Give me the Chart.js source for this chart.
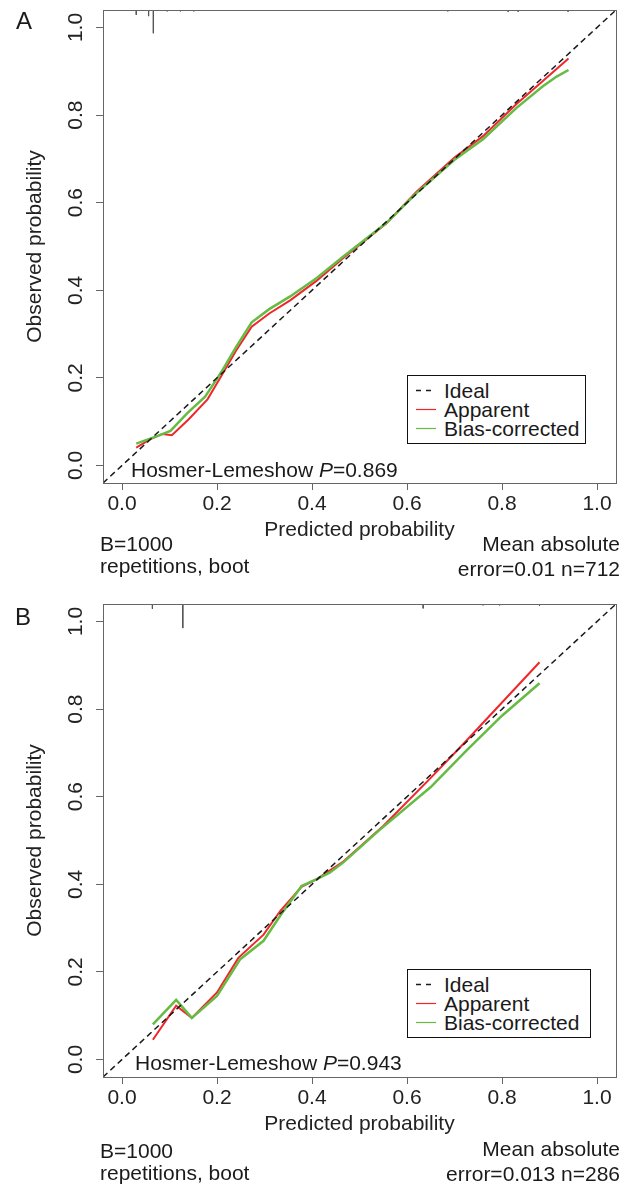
<!DOCTYPE html>
<html lang="en">
<head>
  <meta charset="UTF-8">
  <title>Calibration curves</title>
  <script src="https://cdn.jsdelivr.net/npm/chart.js"></script>
  <style>
    * { box-sizing: border-box; margin: 0; padding: 0; }
    body { width: 633px; height: 1186px; background: #fff; color: #1a1a1a;
           font-family: "Liberation Sans", Arial, sans-serif; position: relative; overflow: hidden; }
    canvas { position: absolute; left: 0; }
    .note { position: absolute; font-size: 21px; line-height: 21px; white-space: nowrap; }
    .tag { position: absolute; font-size: 24px; line-height: 24px; }
    .block { position: absolute; font-size: 21px; white-space: nowrap; }
    .legend { position: absolute; border: 1.5px solid #111; background: #fff; padding: 5px 0 0 8px;
              font-size: 21px; line-height: 19px; white-space: nowrap; }
    .legend div { height: 19px; display: flex; align-items: center; }
    .legend svg { margin-right: 8px; flex: none; }
  </style>
</head>
<body>
  <canvas id="chartA" width="633" height="593" style="top:0"></canvas>
  <canvas id="chartB" width="633" height="593" style="top:594px"></canvas>

  <div class="tag" style="left:16px; top:9px">A</div>
  <div class="tag" style="left:15px; top:605px">B</div>

  <div class="note" style="left:131px; top:459px">Hosmer-Lemeshow <i>P</i>=0.869</div>
  <div class="note" style="left:135px; top:1052px">Hosmer-Lemeshow <i>P</i>=0.943</div>

  <div class="block" style="left:100px; top:533px; line-height:22px">B=1000<br>repetitions, boot</div>
  <div class="block" style="right:13px; top:531px; line-height:25px; text-align:right">Mean absolute<br>error=0.01 n=712</div>
  <div class="block" style="left:100px; top:1140px; line-height:22px">B=1000<br>repetitions, boot</div>
  <div class="block" style="right:13px; top:1136px; line-height:25px; text-align:right">Mean absolute<br>error=0.013 n=286</div>

  <div class="legend" id="legendA" style="left:407px; top:375px; width:179px; height:69px"></div>
  <div class="legend" id="legendB" style="left:407px; top:969px; width:184px; height:69px"></div>

  <script>
    const tickValues = [0, 0.2, 0.4, 0.6, 0.8, 1.0];
    const axisLimits = [-0.04, 1.04];
    const seriesNames = ['Ideal', 'Apparent', 'Bias-corrected'];

    // panel A (n=712)
    const predApparentA = [0.03, 0.06, 0.085, 0.105, 0.14, 0.18, 0.21, 0.24, 0.273, 0.31, 0.354, 0.41, 0.466, 0.557, 0.62, 0.70, 0.76, 0.83, 0.886, 0.94];
    const obsApparentA  = [0.041, 0.06, 0.072, 0.069, 0.105, 0.151, 0.206, 0.262, 0.317, 0.347, 0.377, 0.422, 0.474, 0.553, 0.625, 0.703, 0.752, 0.825, 0.878, 0.929];
    const predBiasA = [0.03, 0.074, 0.102, 0.137, 0.175, 0.21, 0.24, 0.273, 0.31, 0.354, 0.41, 0.466, 0.557, 0.62, 0.70, 0.76, 0.83, 0.886, 0.915, 0.94];
    const obsBiasA  = [0.05, 0.067, 0.079, 0.119, 0.157, 0.215, 0.27, 0.327, 0.357, 0.386, 0.428, 0.477, 0.554, 0.622, 0.698, 0.745, 0.816, 0.866, 0.888, 0.903];
    const rugPredA = [0.03, 0.056, 0.066, 0.095, 0.123, 0.151, 0.686, 0.813, 0.834, 0.939];
    const rugFreqA = [0.011, 0.014, 0.053, 0.003, 0.003, 0.003, 0.003, 0.004, 0.004, 0.004];

    // panel B (n=286)
    const predApparentB = [0.065, 0.114, 0.147, 0.2, 0.245, 0.298, 0.333, 0.378, 0.41, 0.466, 0.55, 0.65, 0.72, 0.8, 0.879];
    const obsApparentB  = [0.045, 0.123, 0.095, 0.153, 0.232, 0.285, 0.339, 0.394, 0.412, 0.452, 0.533, 0.643, 0.722, 0.815, 0.907];
    const predBiasB = [0.065, 0.114, 0.147, 0.2, 0.249, 0.298, 0.333, 0.378, 0.41, 0.438, 0.466, 0.54, 0.65, 0.725, 0.8, 0.879];
    const obsBiasB  = [0.08, 0.136, 0.095, 0.145, 0.229, 0.271, 0.328, 0.396, 0.412, 0.427, 0.45, 0.522, 0.622, 0.705, 0.785, 0.859];
    const rugPredB = [0.064, 0.128, 0.634, 0.76, 0.795, 0.879];
    const rugFreqB = [0.011, 0.055, 0.01, 0.003, 0.003, 0.004];

    Chart.defaults.font.family = '"Liberation Sans", Arial, sans-serif';

    const colors = { ideal: '#1a1a1a', apparent: '#f0262b', bias: '#66bb44', axis: '#666', text: '#222' };

    function toPoints(xs, ys) {
      return xs.map((x, i) => ({ x, y: ys[i] }));
    }
    // histogram spikes hanging from the top of the plot
    function rugPoints(xs, hs) {
      const out = [];
      xs.forEach((x, i) => {
        out.push({ x, y: axisLimits[1] }, { x, y: axisLimits[1] - hs[i] }, { x, y: null });
      });
      return out;
    }

    const framePlugin = {
      id: 'frame',
      afterDraw(chart) {
        const { ctx, chartArea: a } = chart;
        ctx.save();
        ctx.strokeStyle = colors.axis;
        ctx.lineWidth = 1;
        ctx.strokeRect(Math.round(a.left) + 0.5, Math.round(a.top) + 0.5, Math.round(a.width), Math.round(a.height));
        ctx.restore();
      }
    };

    function axis(title, extra) {
      return Object.assign({
        type: 'linear',
        min: axisLimits[0],
        max: axisLimits[1],
        afterBuildTicks: s => { s.ticks = tickValues.map(v => ({ value: v })); },
        grid: { display: true, drawOnChartArea: false, drawTicks: true, tickLength: 7, color: colors.axis },
        border: { display: false },
        title: { display: true, text: title, color: colors.text, font: { size: 21 }, padding: { top: 0, bottom: 0 } }
      }, extra);
    }

    function makePanel(id, legendId, predApp, obsApp, predBias, obsBias, rugX, rugH) {
      const datasets = [
        { label: seriesNames[0], data: toPoints(axisLimits, axisLimits), borderColor: colors.ideal,
          borderWidth: 1.5, borderDash: [6, 4], order: 0 },
        { label: seriesNames[2], data: toPoints(predBias, obsBias), borderColor: colors.bias,
          borderWidth: 2.5, order: 1 },
        { label: seriesNames[1], data: toPoints(predApp, obsApp), borderColor: colors.apparent,
          borderWidth: 2, order: 2 },
        { label: 'rug', data: rugPoints(rugX, rugH), borderColor: '#555', borderWidth: 1, order: 3 }
      ];

      new Chart(document.getElementById(id), {
        type: 'line',
        data: { datasets },
        options: {
          responsive: false,
          animation: false,
          layout: { padding: { top: 10, right: 17, bottom: 50, left: 0 }, autoPadding: false },
          plugins: { legend: { display: false }, tooltip: { enabled: false } },
          elements: { point: { radius: 0 }, line: { tension: 0 } },
          scales: {
            x: axis('Predicted probability', {
              afterFit: s => { s.height = 60; s.paddingLeft = 0; s.paddingRight = 0; },
              ticks: { padding: 2, color: colors.text, font: { size: 21 }, maxRotation: 0, autoSkip: false,
                       callback: v => v.toFixed(1) }
            }),
            y: axis('Observed probability', {
              afterFit: s => { s.width = 103; s.paddingTop = 0; s.paddingBottom = 0; },
              ticks: { padding: 5, color: colors.text, font: { size: 21 }, minRotation: 90, maxRotation: 90,
                       crossAlign: 'center', autoSkip: false, callback: v => v.toFixed(1) }
            })
          }
        },
        plugins: [framePlugin]
      });
      // fix the y title offset
      const ch = Chart.getChart(id);
      ch.options.scales.y.title.padding = { top: 23, bottom: 0 };
      ch.update();

      // legend box, built from the series
      const box = document.getElementById(legendId);
      const byName = Object.fromEntries(datasets.map(d => [d.label, d]));
      seriesNames.forEach(name => {
        const d = byName[name];
        const dash = d.borderDash ? 'stroke-dasharray="5,5"' : '';
        const w = d.borderDash ? 1.6 : 1.2;
        const row = document.createElement('div');
        row.innerHTML = '<svg width="20" height="19"><line x1="0" y1="9.5" x2="20" y2="9.5" stroke="' +
          d.borderColor + '" stroke-width="' + w + '" ' + dash + '/></svg><span>' + name + '</span>';
        box.appendChild(row);
      });
    }

    makePanel('chartA', 'legendA', predApparentA, obsApparentA, predBiasA, obsBiasA, rugPredA, rugFreqA);
    makePanel('chartB', 'legendB', predApparentB, obsApparentB, predBiasB, obsBiasB, rugPredB, rugFreqB);
  </script>
</body>
</html>
